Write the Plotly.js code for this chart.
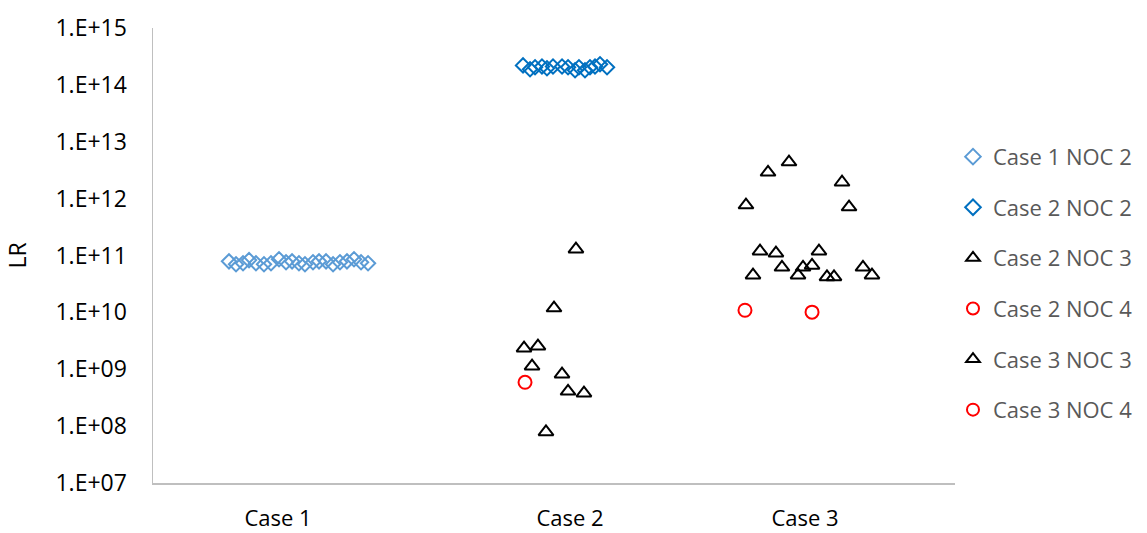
<!DOCTYPE html>
<html>
<head>
<meta charset="utf-8">
<script src="https://cdn.plot.ly/plotly-3.0.1.min.js"></script>
<style>html,body{margin:0;padding:0;background:#fff;}#chart{width:1147px;height:533px;}</style>
</head>
<body>
<div id="chart"></div>
<script>
// Category tick labels and their x positions
const caseLabels = ['Case 1', 'Case 2', 'Case 3'];
const casePositions = [1.247, 4.16, 6.504];

// Y tick labels
const yTickVals = [1e7, 1e8, 1e9, 1e10, 1e11, 1e12, 1e13, 1e14, 1e15];
const yTickText = ['1.E+07', '1.E+08', '1.E+09', '1.E+10', '1.E+11', '1.E+12', '1.E+13', '1.E+14', '1.E+15'];

// Case 1 NOC 2
const case1Noc2X = [0.758, 0.828, 0.898, 0.958, 1.027, 1.107, 1.177, 1.257, 1.327, 1.387, 1.456, 1.516, 1.596, 1.656, 1.726, 1.796, 1.865, 1.935, 2.005, 2.075, 2.145];
const case1Noc2Y = [7.9e10, 7.0e10, 7.3e10, 8.3e10, 7.3e10, 7.0e10, 7.3e10, 8.6e10, 7.6e10, 7.9e10, 7.3e10, 7.0e10, 7.6e10, 7.9e10, 7.9e10, 7.0e10, 7.6e10, 7.9e10, 8.6e10, 7.6e10, 7.3e10];

// Case 2 NOC 2
const case2Noc2X = [3.691, 3.761, 3.811, 3.880, 3.930, 3.990, 4.080, 4.140, 4.210, 4.249, 4.309, 4.359, 4.409, 4.459, 4.529];
const case2Noc2Y = [2.2e14, 1.88e14, 2.04e14, 2.1e14, 1.96e14, 2.1e14, 2.1e14, 2.04e14, 1.81e14, 2.04e14, 1.81e14, 2.04e14, 2.1e14, 2.3e14, 2.04e14];

// Case 2 NOC 3
const case2Noc3X = [4.219, 4.0, 3.701, 3.840, 3.781, 4.080, 4.140, 4.299, 3.920];
const case2Noc3Y = [1.29e11, 1.19e10, 2.35e9, 2.55e9, 1.13e9, 8.2e8, 4.1e8, 3.8e8, 7.9e7];

// Case 2 NOC 4
const case2Noc4X = [3.711];
const case2Noc4Y = [5.9e8];

// Case 3 NOC 3
const case3Noc3X = [6.344, 6.135, 6.873, 5.915, 6.943, 6.055, 6.214, 6.643, 6.274, 6.574, 6.484, 5.985, 6.434, 6.723, 6.793, 7.082, 7.172];
const case3Noc3Y = [4.4e12, 2.9e12, 1.94e12, 7.7e11, 7.1e11, 1.19e11, 1.10e11, 1.19e11, 6.2e10, 6.7e10, 6.2e10, 4.5e10, 4.5e10, 4.2e10, 4.2e10, 6.2e10, 4.5e10];

// Case 3 NOC 4
const case3Noc4X = [5.905, 6.574];
const case3Noc4Y = [1.09e10, 1.01e10];

function tr(name, x, y, symbol, color, size, group) {
  return {
    type: 'scatter', mode: 'markers', name: name, x: x, y: y,
    legendgroup: group,
    marker: {symbol: symbol, size: size, color: color, line: {color: color, width: 2}},
    cliponaxis: false
  };
}

const data = [
  tr('Case 1 NOC 2', case1Noc2X, case1Noc2Y, 'diamond-open', '#5b9bd5', 11, 'g1'),
  tr('Case 2 NOC 2', case2Noc2X, case2Noc2Y, 'diamond-open', '#0070c0', 11, 'g2'),
  tr('Case 2 NOC 3', case2Noc3X, case2Noc3Y, 'triangle-up-open', '#000000', 13, 'g3'),
  tr('Case 2 NOC 4', case2Noc4X, case2Noc4Y, 'circle-open', '#ff0000', 13, 'g4'),
  tr('Case 3 NOC 3', case3Noc3X, case3Noc3Y, 'triangle-up-open', '#000000', 13, 'g5'),
  tr('Case 3 NOC 4', case3Noc4X, case3Noc4Y, 'circle-open', '#ff0000', 13, 'g6')
];

const fontFam = 'Open Sans, sans-serif';
const layout = {
  width: 1147, height: 533,
  margin: {l: 153, r: 192, t: 28, b: 50, autoexpand: false},
  paper_bgcolor: '#ffffff', plot_bgcolor: '#ffffff',
  font: {family: fontFam, size: 23, color: '#404040'},
  showlegend: true,
  legend: {
    x: 0.9975, xanchor: 'left', y: 0.763, yanchor: 'top',
    font: {family: fontFam, size: 22, color: '#595959'},
    traceorder: 'grouped', tracegroupgap: 19,
    itemsizing: 'constant',
    bgcolor: 'rgba(0,0,0,0)'
  },
  xaxis: {
    range: [0, 8], showgrid: false, zeroline: false,
    showline: true, linecolor: '#bfbfbf', linewidth: 1.5,
    tickmode: 'array', tickvals: casePositions, ticktext: caseLabels,
    ticks: '', ticklabelstandoff: 15,
    tickfont: {family: fontFam, size: 22, color: '#000000'}
  },
  yaxis: {
    type: 'log', range: [7, 15], showgrid: false, zeroline: false,
    showline: true, linecolor: '#bfbfbf', linewidth: 1.5,
    tickmode: 'array', tickvals: yTickVals, ticktext: yTickText,
    ticks: '', ticklabelstandoff: 20,
    tickfont: {family: fontFam, size: 23, color: '#000000'},
    title: {text: 'LR', font: {family: fontFam, size: 23, color: '#000000'}, standoff: 22}
  }
};

Plotly.newPlot('chart', data, layout, {displayModeBar: false, staticPlot: true});
</script>
</body>
</html>
